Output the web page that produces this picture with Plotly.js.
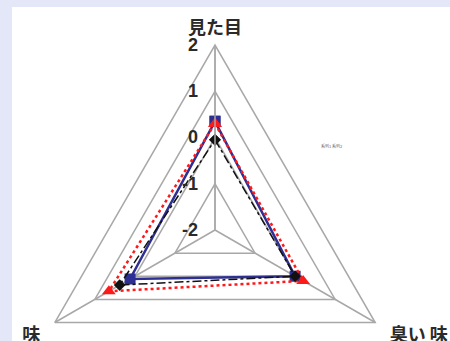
<!DOCTYPE html>
<html>
<head>
<meta charset="utf-8">
<script src="https://cdn.plot.ly/plotly-3.0.1.min.js"></script>
<style>
  html, body { margin: 0; padding: 0; width: 450px; height: 341px; overflow: hidden; background: #e4e7f8; }
  #chart { position: absolute; left: 12px; top: 7px; width: 438px; height: 420px; }
</style>
</head>
<body>
<div id="chart"></div>
<script>
// Axes of the radar, clockwise from the top
const categories = ['見た目', '臭い 味', '味'];
const radialTicks = [-2, -1, 0, 1, 2];

// Scores per series
const seriesRed = [0.3, 0.2, 0.65];
const seriesBlue = [0.35, 0.0, 0.12];
const seriesBlack = [-0.05, 0.0, 0.38];

const closeLoop = arr => arr.concat([arr[0]]);
const theta = closeLoop(categories);

// Category labels padded so they sit a little away from the triangle corners
const NB = '\u00a0';
const angularText = categories.map((c, i) => i === 1 ? NB + NB + c : (i === 2 ? c + NB + NB : c));

// cliponaxis: true clips to the triangle instead of hiding the markers
const traces = [
  {
    type: 'scatterpolar', r: closeLoop(seriesBlue), theta: theta,
    mode: 'lines+markers', name: '系列2', cliponaxis: true,
    line: { color: '#2e2f92', width: 2.5 },
    marker: { symbol: 'square', size: 11, color: '#2e2f92' }
  },
  {
    type: 'scatterpolar', r: closeLoop(seriesRed), theta: theta,
    mode: 'lines+markers', name: '系列1', cliponaxis: true,
    line: { color: '#ff1a1a', width: 2.5, dash: 'dot' },
    marker: { symbol: 'triangle-up', size: 12, color: '#ff1a1a' }
  },
  {
    type: 'scatterpolar', r: closeLoop(seriesBlack), theta: theta,
    mode: 'lines+markers', name: '系列3', cliponaxis: true,
    line: { color: '#111111', width: 1.5, dash: 'dashdot' },
    marker: { symbol: 'diamond', size: 9, color: '#111111' }
  }
];

const layout = {
  width: 438, height: 420,
  margin: { l: 18, r: 50, t: 38, b: 12 },
  paper_bgcolor: '#ffffff',
  showlegend: false,
  font: { family: 'Noto Sans CJK JP, Noto Sans, sans-serif', color: '#2a2a2a' },
  polar: {
    domain: { x: [0, 1], y: [0, 1] },
    bgcolor: '#ffffff',
    gridshape: 'linear',
    radialaxis: {
      range: [-2, 2], tickvals: radialTicks, ticktext: radialTicks.map(v => String(v) + NB + NB),
      angle: 90, side: 'counterclockwise', tickangle: 90,
      showline: true, linecolor: '#a8a8a8', linewidth: 1.5,
      gridcolor: '#a8a8a8', gridwidth: 1.5, ticks: '',
      tickfont: { family: 'Liberation Sans, Arial, sans-serif', size: 18, weight: 'bold', color: '#2a2a2a' }
    },
    angularaxis: {
      direction: 'clockwise', rotation: 90,
      tickvals: categories, ticktext: angularText,
      linecolor: '#a8a8a8', linewidth: 1.5,
      gridcolor: '#a8a8a8', gridwidth: 1.5,
      ticks: 'outside', ticklen: 3, tickcolor: 'rgba(0,0,0,0)',
      tickfont: { size: 18, weight: 'bold', color: '#2a2a2a' }
    }
  },
  annotations: [
    {
      xref: 'paper', yref: 'paper', x: 0.85, y: 0.74,
      text: '系列1 系列2', showarrow: false,
      font: { size: 4, color: '#666666' }
    }
  ]
};

Plotly.newPlot('chart', traces, layout, { displayModeBar: false, staticPlot: true });
</script>
</body>
</html>
